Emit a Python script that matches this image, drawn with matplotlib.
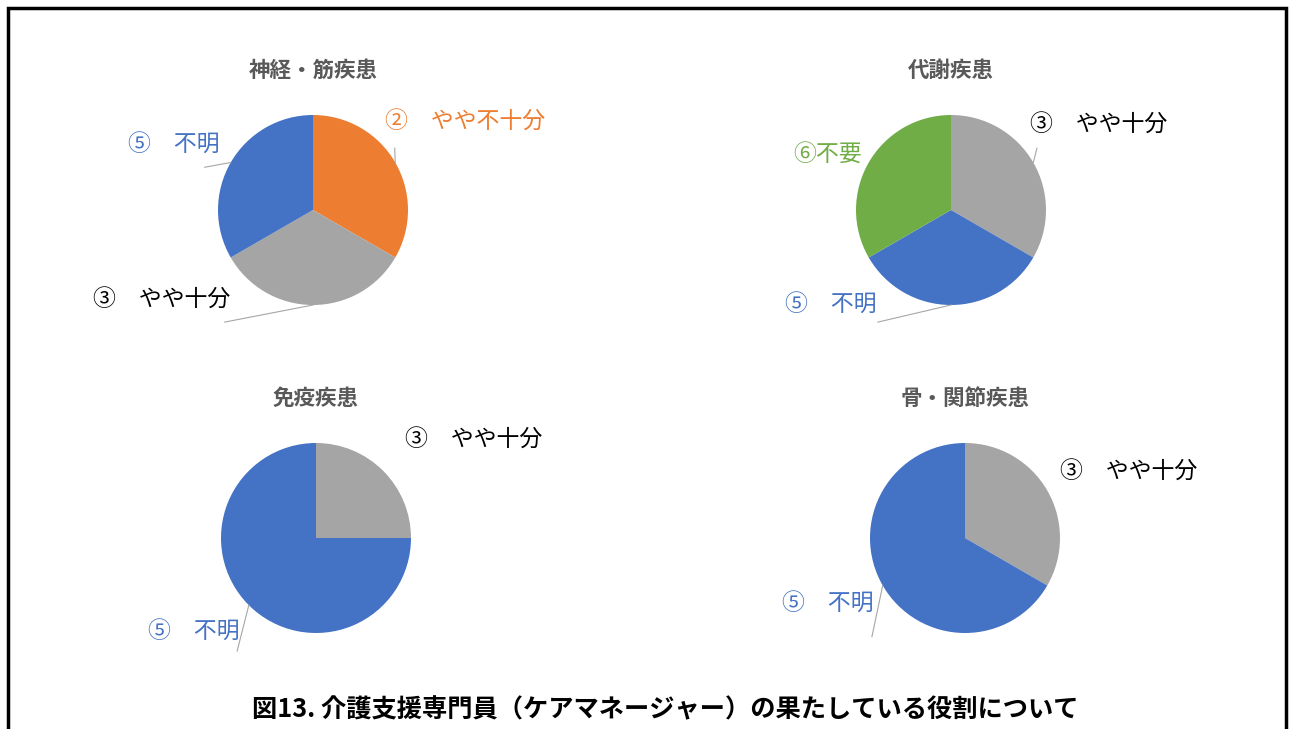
import matplotlib.pyplot as plt
import numpy as np
from matplotlib.patches import Rectangle

plt.rcParams['font.family'] = ['Noto Sans CJK JP', 'DejaVu Sans']

# 各疾患ごとの回答
titles = ["神経・筋疾患", "代謝疾患", "免疫疾患", "骨・関節疾患"]

labels_neuro = ["②\u3000やや不十分", "③\u3000やや十分", "⑤\u3000不明"]
values_neuro = [1, 1, 1]

labels_metab = ["③\u3000やや十分", "⑤\u3000不明", "⑥不要"]
values_metab = [1, 1, 1]

labels_immune = ["③\u3000やや十分", "⑤\u3000不明"]
values_immune = [1, 3]

labels_bone = ["③\u3000やや十分", "⑤\u3000不明"]
values_bone = [1, 2]

caption = "図13. 介護支援専門員（ケアマネージャー）の果たしている役割について"

colores = {"②": "#ED7D31", "③": "#A5A5A5", "⑤": "#4472C4", "⑥": "#70AD47"}
color_texto = {"②": "#ED7D31", "③": "#000000", "⑤": "#4472C4", "⑥": "#70AD47"}

W, H = 1295, 729
R = 95  # radio en pixeles

# centro de cada torta, y por etiqueta: (x, y, ha, fin de la linea guia o None)
graficos = [
    ((313, 210), labels_neuro, values_neuro,
     [(0.76, 0.92, "left", (0.86, 0.65)),
      (-0.87, -0.95, "right", (-0.93, -1.18)),
      (-0.98, 0.68, "right", (-1.14, 0.45))]),
    ((951, 210), labels_metab, values_metab,
     [(0.83, 0.89, "left", (0.905, 0.65)),
      (-0.78, -1.0, "right", (-0.77, -1.18)),
      (-0.94, 0.58, "right", None)]),
    ((316, 538), labels_immune, values_immune,
     [(0.94, 1.03, "left", None),
      (-0.8, -0.99, "right", (-0.83, -1.19))]),
    ((965, 538), labels_bone, values_bone,
     [(1.0, 0.69, "left", None),
      (-0.96, -0.70, "right", (-0.98, -1.04))]),
]

fig = plt.figure(figsize=(W / 100, H / 100), dpi=100)

for titulo, ((cx, cy), etiquetas, valores, posiciones) in zip(titles, graficos):
    ax = fig.add_axes([(cx - R) / W, 1 - (cy + R) / H, 2 * R / W, 2 * R / H])
    cols = [colores[e[0]] for e in etiquetas]
    wedges, _ = ax.pie(valores, colors=cols, startangle=90, counterclock=False,
                       radius=1, wedgeprops=dict(linewidth=0))
    ax.set_xlim(-1, 1)
    ax.set_ylim(-1, 1)
    ax.set_aspect("equal")
    ax.axis("off")

    # titulo de cada torta
    ax.text(0, 1.47, titulo, ha="center", va="center", fontsize=15.5,
            fontweight="bold", color="#595959")

    for w, etq, (tx, ty, ha, fin) in zip(wedges, etiquetas, posiciones):
        ax.text(tx, ty, etq, ha=ha, va="center", fontsize=16.5,
                color=color_texto[etq[0]])
        if fin is not None:
            ang = np.deg2rad((w.theta1 + w.theta2) / 2)
            ax.plot([np.cos(ang), fin[0]], [np.sin(ang), fin[1]],
                    color="#A6A6A6", lw=0.8, clip_on=False)

fig.text(665 / W, 1 - 710 / H, caption, ha="center", va="center",
         fontsize=18.2, fontweight="bold", color="#000000")

# marco negro alrededor
fig.patches.append(Rectangle((8 / W, -0.02), (1286 - 8) / W, 1 - 8 / H + 0.02,
                             transform=fig.transFigure, fill=False,
                             edgecolor="black", linewidth=2.5))

fig.savefig("out.png", dpi=100)
